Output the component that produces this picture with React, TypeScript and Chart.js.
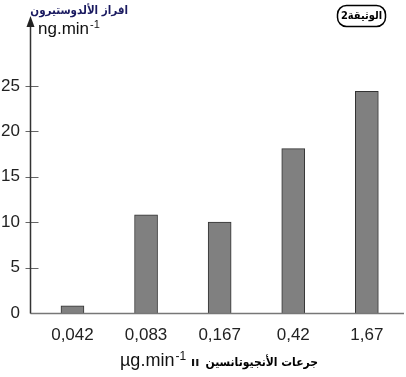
import React, { useEffect, useRef } from "react";
import { Chart, registerables } from "chart.js";

Chart.register(...registerables);

const categories = ["0,042", "0,083", "0,167", "0,42", "1,67"];
const aldosterone = [0.8, 10.8, 10.0, 18.1, 24.4];
const yTicks = [0, 5, 10, 15, 20, 25];

const yTitleAr = "افراز الألدوستيرون";
const yUnit = "ng.min";
const xTitleAr = "جرعات الأنجيوتانسين";
const xUnit = "µg.min";
const docLabel = "الوثيقة2";

const AR_FONT = "'DejaVu Sans Condensed', 'DejaVu Sans'";

const decorPlugin = {
  id: "decor",
  afterDraw(chart: any) {
    const ctx = chart.ctx;
    const area = chart.chartArea;
    const ys = chart.scales.y;
    const ax = Math.round(area.left) + 0.5;
    const ay = Math.round(area.bottom) + 0.5;
    ctx.save();
    // x axis line
    ctx.strokeStyle = "#777";
    ctx.lineWidth = 1.5;
    ctx.beginPath();
    ctx.moveTo(ax, ay);
    ctx.lineTo(404, ay);
    ctx.stroke();
    // tick marks
    ctx.strokeStyle = "#666";
    ctx.lineWidth = 1;
    yTicks.forEach((t) => {
      if (t === 0) return;
      const py = Math.round(ys.getPixelForValue(t)) + 0.5;
      ctx.beginPath();
      ctx.moveTo(ax - 5, py);
      ctx.lineTo(ax + 8, py);
      ctx.stroke();
    });
    // y axis line with arrow
    ctx.strokeStyle = "#333";
    ctx.lineWidth = 1.5;
    ctx.beginPath();
    ctx.moveTo(ax, ay);
    ctx.lineTo(ax, 24);
    ctx.stroke();
    ctx.fillStyle = "#222";
    ctx.beginPath();
    ctx.moveTo(ax, 16);
    ctx.lineTo(ax - 4, 27);
    ctx.lineTo(ax + 4, 27);
    ctx.closePath();
    ctx.fill();

    // y title
    ctx.textBaseline = "alphabetic";
    ctx.direction = "rtl";
    ctx.textAlign = "right";
    ctx.fillStyle = "#1a1a60";
    ctx.font = "bold 11.5px " + AR_FONT;
    ctx.fillText(yTitleAr, 128, 14);
    ctx.direction = "ltr";
    ctx.textAlign = "left";
    ctx.fillStyle = "#111";
    ctx.font = "17px 'Liberation Sans'";
    ctx.fillText(yUnit, 38, 34);
    const w1 = ctx.measureText(yUnit).width;
    ctx.font = "11px 'Liberation Sans'";
    ctx.fillText("-1", 38 + w1 + 1, 28);

    // x title
    ctx.font = "18px 'Liberation Sans'";
    ctx.fillText(xUnit, 120, 366);
    const w2 = ctx.measureText(xUnit).width;
    ctx.font = "12px 'Liberation Sans'";
    ctx.fillText("-1", 120 + w2 + 1, 360);
    const w3 = ctx.measureText("-1").width;
    ctx.font = "bold 12px 'DejaVu Sans'";
    ctx.fillText("ıı", 120 + w2 + w3 + 6, 366);
    ctx.direction = "rtl";
    ctx.textAlign = "right";
    ctx.fillStyle = "#000";
    ctx.font = "bold 12px " + AR_FONT;
    ctx.fillText(xTitleAr, 318, 366);

    // doc label box
    ctx.direction = "ltr";
    ctx.strokeStyle = "#000";
    ctx.lineWidth = 1.5;
    ctx.beginPath();
    (ctx as any).roundRect(337.5, 5.5, 48, 21, 9);
    ctx.stroke();
    ctx.direction = "rtl";
    ctx.textAlign = "center";
    ctx.textBaseline = "middle";
    ctx.font = "bold 11px " + AR_FONT;
    ctx.fillText(docLabel, 361.5, 16.5);
    ctx.restore();
  },
};

export default function App() {
  const ref = useRef<HTMLCanvasElement | null>(null);
  useEffect(() => {
    if (!ref.current) return;
    const chart = new Chart(ref.current, {
      type: "bar",
      data: {
        datasets: [
          {
            data: aldosterone.map((v, i) => ({ x: i, y: v })),
            backgroundColor: "#808080",
            borderColor: "#333",
            borderWidth: 1,
            barThickness: 23,
          } as any,
        ],
      },
      options: {
        animation: false,
        responsive: false,
        layout: { padding: { top: 17, right: 2, left: 0, bottom: 0 } },
        plugins: { legend: { display: false }, tooltip: { enabled: false } },
        scales: {
          x: {
            type: "linear",
            offset: false,
            min: -0.577,
            max: 4.505,
            afterBuildTicks: (s: any) => {
              s.ticks = categories.map((_, i) => ({ value: i }));
            },
            afterFit: (s: any) => {
              s.height = 64;
            },
            grid: { display: false, offset: false },
            border: { display: false },
            ticks: {
              callback: (v: any) => categories[v as number] ?? "",
              font: { family: "'Liberation Sans'", size: 17 },
              color: "#222",
              padding: 4,
              maxRotation: 0,
              autoSkip: false,
            },
          },
          y: {
            min: 0,
            max: 32.6,
            afterBuildTicks: (s: any) => {
              s.ticks = yTicks.map((v) => ({ value: v }));
            },
            afterFit: (s: any) => {
              s.width = 30;
            },
            grid: { display: false },
            border: { display: false },
            ticks: {
              font: { family: "'Liberation Sans'", size: 17 },
              color: "#222",
              padding: 2,
            },
          },
        },
      },
      plugins: [decorPlugin],
    } as any);
    return () => chart.destroy();
  }, []);
  return (
    <div style={{ position: "absolute", left: 0, top: 0, width: 406, height: 377, background: "#fff" }}>
      <canvas ref={ref} width={406} height={377} />
    </div>
  );
}
